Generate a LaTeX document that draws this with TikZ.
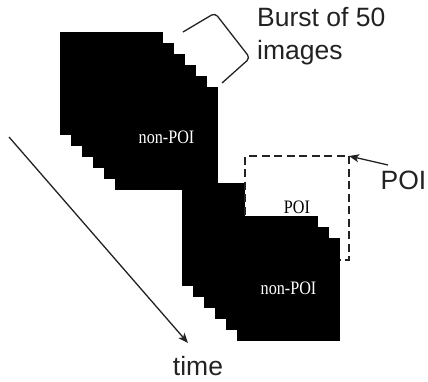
\documentclass[tikz,border=0pt]{standalone}
\usepackage{fontspec}
\usetikzlibrary{arrows.meta}
\newfontfamily\labelfont{Liberation Sans}
\newfontfamily\framefont{Liberation Serif}
\definecolor{ink}{HTML}{222222}
\newcommand{\framelabel}[1]{\raisebox{2.5pt}{\scalebox{0.85}[1]{#1}}}
\begin{document}
\begin{tikzpicture}[x=1pt, y=-1pt,
  frame/.style={minimum size=103pt, inner sep=0pt, outer sep=0pt, fill=black,
    text=white, font=\framefont\fontsize{19}{19}\selectfont},
  poiframe/.style={minimum size=104pt, inner sep=0pt, outer sep=0pt, fill=white,
    draw=ink, line width=1.4pt, dash pattern=on 8pt off 4.5pt,
    font=\framefont\fontsize{19}{19}\selectfont},
  caption/.style={inner sep=0pt, text=ink, font=\labelfont\fontsize{26.5}{33}\selectfont},
  pointer/.style={draw=ink, line width=1.3pt, -{Stealth[length=10pt, width=8pt, inset=2.5pt]}},
  bracket/.style={draw=ink, line width=1.3pt, rounded corners=4pt}]
\useasboundingbox (0,0) rectangle (428,381);

% first burst: six frames stacked along the diagonal
\foreach \k in {0,...,4}
  \node[frame] (u\k) at ({111.5+11*\k},{83.5+11*\k}) {};
\node[frame] (u5) at (166.5,138.5) {\framelabel{non-POI}};

% second burst: three frames, the POI frame, then three more on top
\foreach \k in {0,1,2}
  \node[frame] (l\k) at ({233.5+11*\k},{234.5+11*\k}) {};
\node[poiframe] (poi) at (297,208) {\framelabel{POI}};
\foreach \k in {3,4}
  \node[frame] (l\k) at ({233.5+11*\k},{234.5+11*\k}) {};
\node[frame] (l5) at (288.5,289.5) {\framelabel{non-POI}};

% bracket marking one burst
\coordinate (b0) at (183,32);
\coordinate (b1) at (215,13);
\coordinate (b2) at (250,58);
\coordinate (b3) at (222,83);
\draw[bracket] (b0) -- (b1) -- (b2) -- (b3);
\node[caption, anchor=base west, align=left] (burst) at (257,59) {Burst of 50\\images};

% POI pointer
\node[caption, anchor=base west] (poilbl) at (380.5,189) {POI};
\coordinate (poitail) at (388,165);
\draw[pointer] (poitail) -- (poi.north east);

% time axis
\coordinate (t0) at (9,137);
\coordinate (t1) at (188,343);
\draw[pointer] (t0) -- (t1);
\node[caption, anchor=base] (time) at (198,375) {time};
\end{tikzpicture}
\end{document}
